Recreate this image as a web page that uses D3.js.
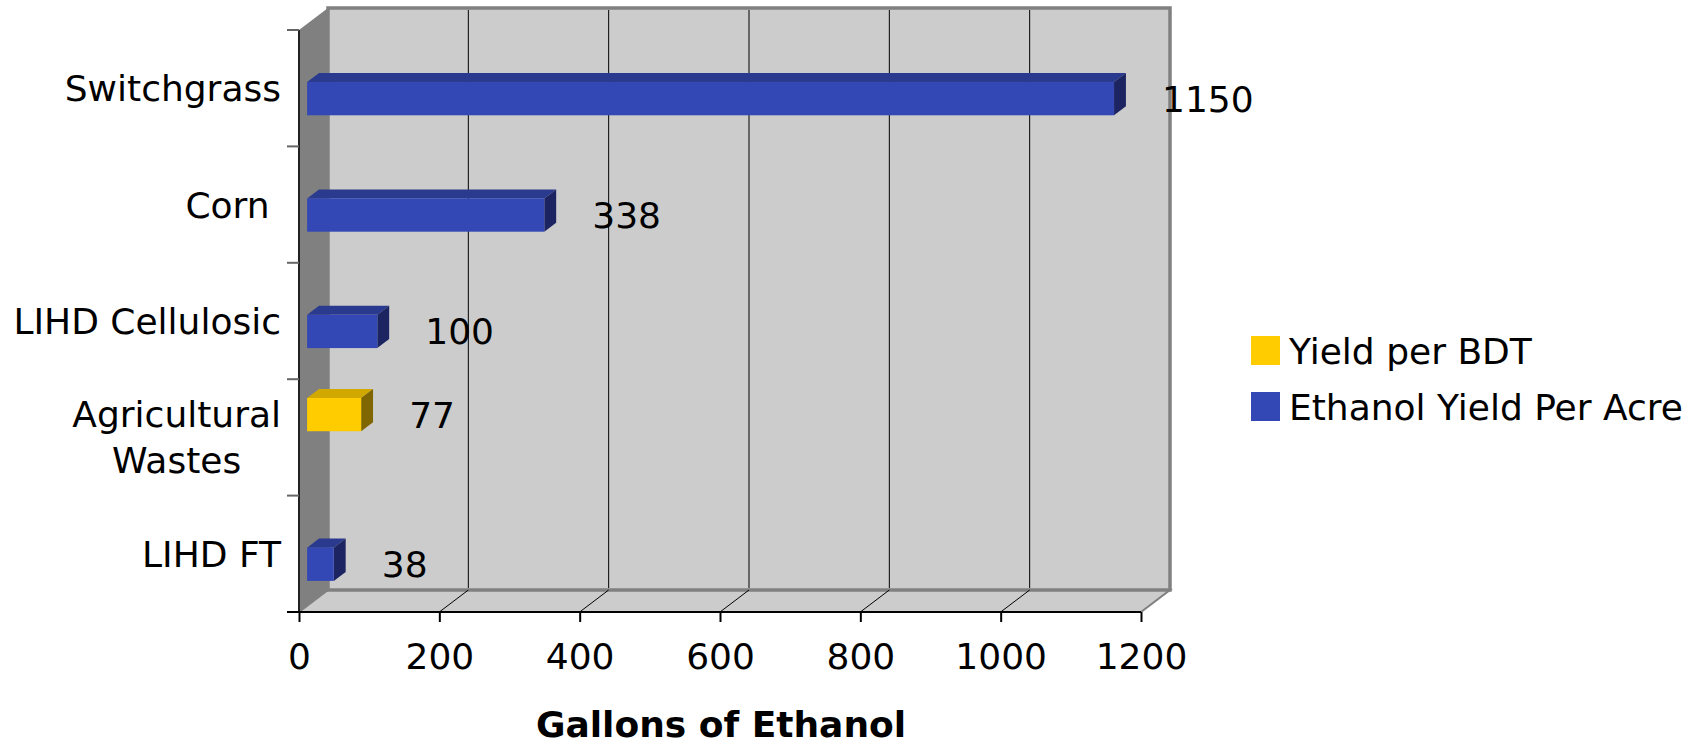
<!DOCTYPE html>
<html>
<head>
<meta charset="utf-8">
<script src="https://cdn.jsdelivr.net/npm/d3@7/dist/d3.min.js"></script>
<style>
  body { margin: 0; background: #fff; }
  text { font-family: "DejaVu Sans", Verdana, sans-serif; fill: #000; }
</style>
</head>
<body>
<div class="chart-wrapper"></div>
<script>
// chart data
var categories = ["Switchgrass", "Corn ", "LIHD Cellulosic", "Agricultural Wastes", "LIHD FT"];
var seriesNames = ["Yield per BDT", "Ethanol Yield Per Acre"];
var yieldPerBDT = [null, null, null, 77, null];
var yieldPerAcre = [1150, 338, 100, null, 38];
var xTicks = [0, 200, 400, 600, 800, 1000, 1200];

var width = 1706, height = 746;
var fontSize = "36px";
// depth of the 3d box and where the bars sit inside it
var depth = { x: 29, y: -22 };
var barFront = 0.28, barBack = 0.69;

var colors = {
  "Yield per BDT": { front: "#ffcc00", top: "#d1a800", side: "#806600" },
  "Ethanol Yield Per Acre": { front: "#3347b5", top: "#2a3a8e", side: "#1c2561" }
};

var svg = d3.select(".chart-wrapper").append("svg")
  .attr("width", width)
  .attr("height", height);

var x = d3.scaleLinear().domain([0, 1200]).range([299, 1141]);
var y = d3.scaleBand().domain(categories).range([30, 612]);
var inner = d3.scaleBand().domain(seriesNames).range([0, y.bandwidth()]).paddingOuter(0.75);

var x0 = x.range()[0], x1 = x.range()[1];
var yTop = y.range()[0], yBot = y.range()[1];

function pts(a) { return a.map(function(p) { return p.join(","); }).join(" "); }

// side wall
svg.append("polygon")
  .attr("points", pts([[x0, yTop], [x0 + depth.x, yTop + depth.y], [x0 + depth.x, yBot + depth.y], [x0, yBot]]))
  .attr("fill", "#808080");

// floor
svg.append("polygon")
  .attr("points", pts([[x0, yBot], [x0 + depth.x, yBot + depth.y], [x1 + depth.x, yBot + depth.y], [x1, yBot]]))
  .attr("fill", "#cccccc")
  .attr("stroke", "#808080")
  .attr("stroke-width", 2);

// back wall
svg.append("rect")
  .attr("x", x0 + depth.x)
  .attr("y", yTop + depth.y)
  .attr("width", x1 - x0)
  .attr("height", yBot - yTop)
  .attr("fill", "#cccccc")
  .attr("stroke", "#808080")
  .attr("stroke-width", 3.5);

// grid lines on back wall and floor
var inside = xTicks.slice(1, -1);
svg.selectAll(".grid")
  .data(inside)
  .enter().append("line")
  .attr("x1", function(d) { return x(d) + depth.x; })
  .attr("x2", function(d) { return x(d) + depth.x; })
  .attr("y1", yTop + depth.y + 2)
  .attr("y2", yBot + depth.y - 2)
  .attr("stroke", "#000")
  .attr("stroke-width", 1);

svg.selectAll(".floorgrid")
  .data(inside)
  .enter().append("line")
  .attr("x1", function(d) { return x(d); })
  .attr("x2", function(d) { return x(d) + depth.x; })
  .attr("y1", yBot)
  .attr("y2", yBot + depth.y)
  .attr("stroke", "#000")
  .attr("stroke-width", 1);

// build bars
var bars = [];
categories.forEach(function(c, i) {
  [yieldPerBDT, yieldPerAcre].forEach(function(vals, j) {
    if (vals[i] != null) bars.push({ cat: c, series: seriesNames[j], value: vals[i] });
  });
});

var dd = { x: (barBack - barFront) * depth.x, y: (barBack - barFront) * depth.y };

var bar = svg.selectAll(".bar")
  .data(bars)
  .enter().append("g")
  .attr("class", "bar")
  .attr("transform", "translate(" + barFront * depth.x + "," + barFront * depth.y + ")");

bar.each(function(d) {
  var g = d3.select(this);
  var bx0 = x(0), bx1 = x(d.value);
  var by0 = y(d.cat) + inner(d.series), by1 = by0 + inner.bandwidth();
  var c = colors[d.series];
  g.append("polygon")
    .attr("points", pts([[bx0, by0], [bx1, by0], [bx1 + dd.x, by0 + dd.y], [bx0 + dd.x, by0 + dd.y]]))
    .attr("fill", c.top);
  g.append("polygon")
    .attr("points", pts([[bx1, by0], [bx1 + dd.x, by0 + dd.y], [bx1 + dd.x, by1 + dd.y], [bx1, by1]]))
    .attr("fill", c.side);
  g.append("rect")
    .attr("x", bx0).attr("y", by0)
    .attr("width", bx1 - bx0).attr("height", by1 - by0)
    .attr("fill", c.front);
  g.append("text")
    .attr("x", bx1 + 48)
    .attr("y", (by0 + by1) / 2)
    .attr("dy", "0.36em")
    .style("font-size", fontSize)
    .text(d.value);
});

// left axis
svg.append("line")
  .attr("x1", x0).attr("x2", x0)
  .attr("y1", yTop).attr("y2", yBot)
  .attr("stroke", "#222").attr("stroke-width", 2);

var yEdges = categories.map(function(c) { return y(c); }).concat([yBot]);
svg.selectAll(".ytick")
  .data(yEdges)
  .enter().append("line")
  .attr("x1", x0 - 12).attr("x2", x0)
  .attr("y1", function(d) { return d; })
  .attr("y2", function(d) { return d; })
  .attr("stroke", "#666").attr("stroke-width", 2);

// category labels, wrapped when too long
var labelRight = 281, maxW = 300;
categories.forEach(function(c) {
  var t = svg.append("text")
    .style("font-size", fontSize)
    .style("white-space", "pre")
    .attr("text-anchor", "middle");
  var words = c.trim().split(" "), lines = [], line = [];
  var probe = svg.append("text").style("font-size", fontSize).style("white-space", "pre");
  words.forEach(function(w) {
    var test = line.concat([w]).join(" ");
    probe.text(test);
    if (line.length && probe.node().getComputedTextLength() > maxW) {
      lines.push(line.join(" "));
      line = [w];
    } else line.push(w);
  });
  lines.push(line.join(" "));
  if (lines.length === 1) lines = [c];
  var widest = d3.max(lines, function(l) { probe.text(l); return probe.node().getComputedTextLength(); });
  probe.remove();
  var cy = y(c) + y.bandwidth() / 2, lh = 46;
  t.selectAll("tspan")
    .data(lines)
    .enter().append("tspan")
    .attr("x", labelRight - widest / 2)
    .attr("y", function(d, i) { return cy + (i - (lines.length - 1) / 2) * lh; })
    .attr("dy", "0.36em")
    .text(function(d) { return d; });
});

// bottom axis
var xAxis = svg.append("g")
  .attr("transform", "translate(0," + yBot + ")")
  .call(d3.axisBottom(x).tickValues(xTicks).tickFormat(d3.format("d")).tickSize(10).tickPadding(21));
xAxis.select(".domain").remove();
xAxis.selectAll("line").attr("stroke", "#000").attr("stroke-width", 2);
xAxis.selectAll("text")
  .style("font-size", fontSize)
  .style("font-family", "'DejaVu Sans', Verdana, sans-serif")
  .attr("fill", "#000");
svg.append("line")
  .attr("x1", x0 - 12).attr("x2", x1)
  .attr("y1", yBot).attr("y2", yBot)
  .attr("stroke", "#000").attr("stroke-width", 2);

// axis title
svg.append("text")
  .attr("x", 721)
  .attr("y", 737)
  .attr("text-anchor", "middle")
  .style("font-size", fontSize)
  .style("font-weight", "bold")
  .text("Gallons of Ethanol");

// legend
var legend = svg.selectAll(".legend")
  .data(seriesNames)
  .enter().append("g")
  .attr("transform", function(d, i) { return "translate(1251," + (336 + i * 56) + ")"; });
legend.append("rect")
  .attr("width", 29).attr("height", 29)
  .attr("fill", function(d) { return colors[d].front; });
legend.append("text")
  .attr("x", 38)
  .attr("y", 15)
  .attr("dy", "0.36em")
  .style("font-size", fontSize)
  .text(function(d) { return d; });
</script>
</body>
</html>
